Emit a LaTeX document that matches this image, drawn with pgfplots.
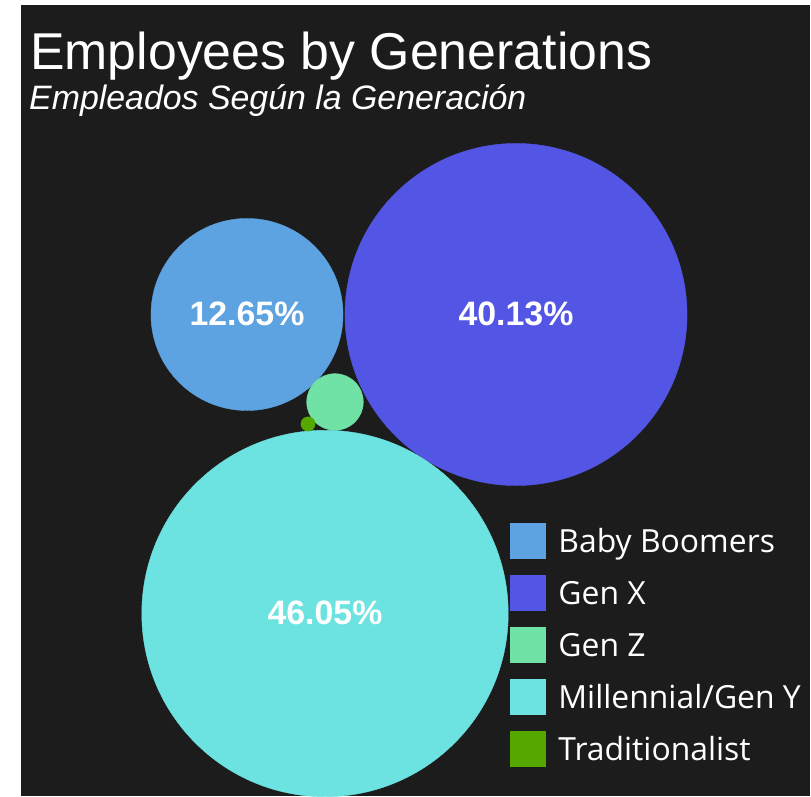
\documentclass[border=0pt]{standalone}
\usepackage{pgfplots}
\pgfplotsset{compat=1.18}
\usepackage{fontspec}
\setmainfont{Liberation Sans}
\newfontfamily\legendfont{Open Sans}

\definecolor{bgdark}{HTML}{1C1C1C}
\definecolor{boomers}{HTML}{5DA3E1}
\definecolor{genx}{HTML}{5356E4}
\definecolor{genz}{HTML}{71E2A6}
\definecolor{millen}{HTML}{6DE3E1}
\definecolor{tradit}{HTML}{54A800}

% bubble: x, y (page units, y up), share in percent
\pgfplotstableread{
x y p
247 481.5 12.65
}\boomerstab
\pgfplotstableread{
x y p
516 481.5 40.13
}\genxtab
\pgfplotstableread{
x y p
335 394 1.10
}\genztab
\pgfplotstableread{
x y p
325 182.5 46.05
}\millentab
\pgfplotstableread{
x y p
308 372 0.07
}\tradittab

\pgfplotsset{
  bubble/.style={
    scatter, only marks, mark=*, color=#1,
    scatter/use mapped color={draw=none, fill=#1},
    point meta=\thisrow{p},
    visualization depends on={27*sqrt(\thisrow{p})\as\rad},
    scatter/@pre marker code/.append style={/tikz/mark size=\rad bp},
  },
  pct/.style={
    only marks, mark=none, forget plot,
    point meta=\thisrow{p},
    nodes near coords={\pgfmathprintnumber[fixed,fixed zerofill,precision=2]{\pgfplotspointmeta}\%},
    every node near coord/.append style={anchor=center, text=white, yshift=1bp,
      font=\bfseries\fontsize{34}{40}\selectfont},
  },
}

\begin{document}
\begin{tikzpicture}
\fill[white] (0bp,0bp) rectangle (811bp,796bp);
\fill[bgdark] (21bp,0bp) rectangle (810bp,791bp);
\node[anchor=base west, inner sep=0pt, text=white, font=\fontsize{52}{60}\selectfont]
  at (30bp,726bp) {Employees by Generations};
\node[anchor=base west, inner sep=0pt, text=white, font=\itshape\fontsize{34}{40}\selectfont]
  at (29bp,686bp) {Empleados Según la Generación};
\begin{axis}[
    at={(0bp,0bp)}, anchor=south west,
    width=811bp, height=796bp, scale only axis,
    xmin=0, xmax=811, ymin=0, ymax=796,
    hide axis, clip=false,
    /pgf/number format/assume math mode=true,
    legend image code/.code={
      \fill[#1, draw=none] (0bp,-18bp) rectangle (36bp,18bp);
      \path (48bp,0bp);
    },
    legend style={
      draw=none, fill=none, inner sep=0pt,
      at={(0.6289,0.3430)}, anchor=north west,
      row sep=16bp, text=white,
      font=\legendfont\fontsize{32}{38}\selectfont,
      nodes={inner sep=0pt, text height=29bp, text depth=7bp},
    },
    legend cell align=left,
  ]
  \addplot[bubble=boomers] table {\boomerstab};
  \addlegendentry{Baby Boomers}
  \addplot[bubble=genx] table {\genxtab};
  \addlegendentry{Gen X}
  \addplot[bubble=genz] table {\genztab};
  \addlegendentry{Gen Z}
  \addplot[bubble=millen] table {\millentab};
  \addlegendentry{Millennial/Gen Y}
  \addplot[bubble=tradit] table {\tradittab};
  \addlegendentry{Traditionalist}
  \addplot[pct] table {\boomerstab};
  \addplot[pct] table {\genxtab};
  \addplot[pct] table {\millentab};
\end{axis}
\end{tikzpicture}
\end{document}
